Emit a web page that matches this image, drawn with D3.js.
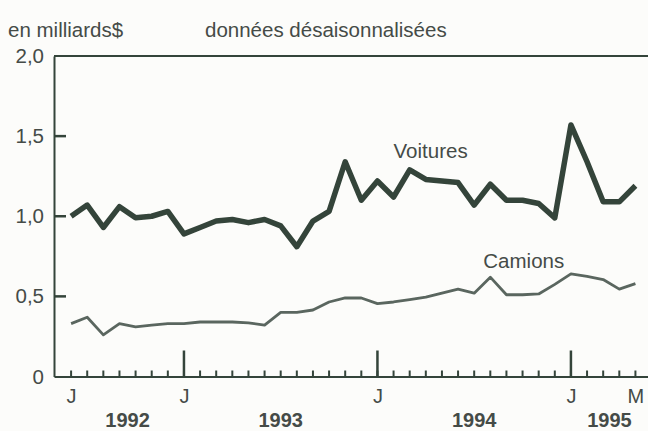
<!DOCTYPE html>
<html>
<head>
<meta charset="utf-8">
<script src="https://cdn.jsdelivr.net/npm/d3@7/dist/d3.min.js"></script>
<style>
  html, body { margin: 0; padding: 0; background: #fcfcfa; }
  svg { display: block; }
  text { font-family: "Liberation Sans", Arial, Helvetica, sans-serif; fill: #454b47; }
</style>
</head>
<body>
<svg id="chart" width="648" height="431"></svg>
<script>
// ---- data ----
const months = [
  "1992-06","1992-07","1992-08","1992-09","1992-10","1992-11","1992-12",
  "1993-01","1993-02","1993-03","1993-04","1993-05","1993-06","1993-07","1993-08","1993-09","1993-10","1993-11","1993-12",
  "1994-01","1994-02","1994-03","1994-04","1994-05","1994-06","1994-07","1994-08","1994-09","1994-10","1994-11","1994-12",
  "1995-01","1995-02","1995-03","1995-04","1995-05"
];
const voitures = [
  1.00,1.07,0.93,1.06,0.99,1.00,1.03,
  0.89,0.93,0.97,0.98,0.96,0.98,0.94,0.81,0.97,1.03,1.34,1.10,
  1.22,1.12,1.29,1.23,1.22,1.21,1.07,1.20,1.10,1.10,1.08,0.99,
  1.57,1.34,1.09,1.09,1.19
];
const camions = [
  0.33,0.37,0.26,0.33,0.31,0.32,0.33,
  0.33,0.34,0.34,0.34,0.335,0.32,0.40,0.40,0.415,0.465,0.49,0.49,
  0.455,0.465,0.48,0.495,0.52,0.545,0.52,0.62,0.51,0.51,0.515,0.575,
  0.64,0.625,0.605,0.545,0.58
];
const yTickValues = [0, 0.5, 1.0, 1.5, 2.0];
const yTickLabels = ["0", "0,5", "1,0", "1,5", "2,0"];
const monthLabelAt = ["1992-06", "1993-01", "1994-01", "1995-01", "1995-05"];
const monthLabels = ["J", "J", "J", "J", "M"];
const years = ["1992", "1993", "1994", "1995"];
const unitLabel = "en milliards$";
const noteLabel = "données désaisonnalisées";
const seriesNames = ["Voitures", "Camions"];

// ---- layout ----
const svg = d3.select("#chart");
const mLeft = 54, mRight = 648, mTop = 56, mBottom = 376.5;
const ink = "#34443a";
const inkLight = "#5a665f";
const idx = m => months.indexOf(m);

const x = d3.scaleLinear().domain([-1.06, 35.78]).range([mLeft, mRight]);
const y = d3.scaleLinear().domain([0, 2]).range([mBottom, mTop]);

// header texts
svg.append("text").attr("x", 8).attr("y", 37).attr("font-size", 20.5).text(unitLabel);
svg.append("text").attr("x", 205).attr("y", 37).attr("font-size", 20.5).text(noteLabel);

// top frame line
svg.append("line").attr("x1", mLeft).attr("x2", mRight).attr("y1", y(2)).attr("y2", y(2))
  .style("stroke", ink).style("stroke-width", "2px");

// left axis (labels + domain)
const yAxis = d3.axisLeft(y).tickValues(yTickValues)
  .tickFormat((d, i) => yTickLabels[i]).tickSize(0).tickSizeOuter(0).tickPadding(10);
const gy = svg.append("g").attr("transform", `translate(${mLeft},0)`).call(yAxis);
gy.select(".domain").style("stroke", ink).style("stroke-width", "2px");
gy.selectAll(".tick text").attr("font-size", 20.5).attr("font-family", "Liberation Sans, Arial, sans-serif").attr("fill", "#454b47");
// inward ticks on the left axis
svg.append("g").attr("class", "yticks").selectAll("line").data(yTickValues.filter(v => v > 0 && v < 2)).join("line")
  .attr("x1", mLeft).attr("x2", mLeft + 12)
  .attr("y1", d => y(d)).attr("y2", d => y(d))
  .style("stroke", ink).style("stroke-width", "2.5px");

// bottom axis domain
const xAxis = d3.axisBottom(x).tickValues([]).tickSizeOuter(0);
const gx = svg.append("g").attr("transform", `translate(0,${mBottom})`).call(xAxis);
gx.select(".domain").style("stroke", ink).style("stroke-width", "2px");

// minor monthly ticks
svg.append("g").attr("class", "minor").selectAll("line").data(months).join("line")
  .attr("x1", (d, i) => x(i)).attr("x2", (d, i) => x(i))
  .attr("y1", mBottom).attr("y2", mBottom - 6)
  .style("stroke", ink).style("stroke-width", "2px");

// major ticks at January
const janIdx = months.map((m, i) => m.endsWith("-01") ? i : null).filter(v => v !== null);
svg.append("g").attr("class", "major").selectAll("line").data(janIdx).join("line")
  .attr("x1", d => x(d)).attr("x2", d => x(d))
  .attr("y1", mBottom).attr("y2", mBottom - 26)
  .style("stroke", ink).style("stroke-width", "2.5px");

// month letters
const xLab = d3.axisBottom(x).tickValues(monthLabelAt.map(idx))
  .tickFormat((d, i) => monthLabels[i]).tickSize(0).tickSizeOuter(0).tickPadding(12);
const gxl = svg.append("g").attr("transform", `translate(0,${mBottom})`).call(xLab);
gxl.select(".domain").remove();
gxl.selectAll(".tick text").attr("font-size", 20).attr("font-family", "Liberation Sans, Arial, sans-serif").attr("fill", "#454b47");

// year labels centred on the visible part of each year
years.forEach(yr => {
  const inYear = months.map((m, i) => m.startsWith(yr) ? i : null).filter(v => v !== null);
  const start = inYear[0];
  const nextJan = idx((+yr + 1) + "-01");
  const end = nextJan >= 0 ? nextJan : x.domain()[1];
  svg.append("text").attr("x", x((start + end) / 2)).attr("y", 427)
    .attr("text-anchor", "middle").attr("font-size", 20).attr("font-weight", "bold").text(yr);
});

// lines
const line = d3.line().x((d, i) => x(i)).y(d => y(d)).curve(d3.curveLinear);
svg.append("path").datum(camions).attr("d", line).attr("fill", "none")
  .style("stroke", inkLight).style("stroke-width", "2.8px").attr("stroke-linejoin", "round");
svg.append("path").datum(voitures).attr("d", line).attr("fill", "none")
  .style("stroke", ink).style("stroke-width", "5.5px").attr("stroke-linejoin", "round");

// series labels
svg.append("text").attr("x", x(idx("1994-02"))).attr("y", 158).attr("font-size", 20.5).text(seriesNames[0]);
svg.append("text").attr("x", x(idx("1994-08")) - 7).attr("y", 268).attr("font-size", 20.5).text(seriesNames[1]);
</script>
</body>
</html>
